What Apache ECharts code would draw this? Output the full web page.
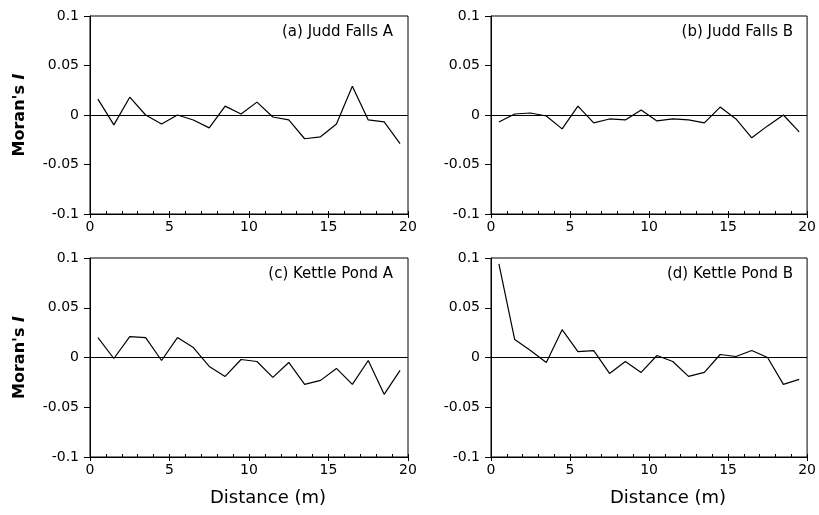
<!DOCTYPE html>
<html>
<head>
<meta charset="utf-8">
<script src="https://cdn.jsdelivr.net/npm/echarts@6/dist/echarts.min.js"></script>
<style>
html,body{margin:0;padding:0;background:#fff;}
#chart{width:819px;height:515px;}
</style>
</head>
<body>
<div id="chart"></div>
<script>
const distances = [0.5,1.5,2.5,3.5,4.5,5.5,6.5,7.5,8.5,9.5,10.5,11.5,12.5,13.5,14.5,15.5,16.5,17.5,18.5,19.5];
const juddFallsA = [0.016,-0.010,0.018,0.000,-0.009,0.000,-0.005,-0.013,0.009,0.001,0.013,-0.002,-0.005,-0.024,-0.022,-0.009,0.029,-0.005,-0.007,-0.029];
const juddFallsB = [-0.007,0.001,0.002,-0.001,-0.014,0.009,-0.008,-0.004,-0.005,0.005,-0.006,-0.004,-0.005,-0.008,0.008,-0.004,-0.023,-0.011,0.000,-0.017];
const kettlePondA = [0.020,-0.001,0.021,0.020,-0.003,0.020,0.010,-0.009,-0.019,-0.002,-0.004,-0.020,-0.005,-0.027,-0.023,-0.011,-0.027,-0.003,-0.037,-0.013];
const kettlePondB = [0.094,0.018,0.007,-0.005,0.028,0.006,0.007,-0.016,-0.004,-0.015,0.002,-0.004,-0.019,-0.015,0.003,0.001,0.007,0.000,-0.027,-0.022];
const panelLabels = ['(a) Judd Falls A','(b) Judd Falls B','(c) Kettle Pond A','(d) Kettle Pond B'];
const xTickInterval = 5;
const yTicks = {min:-0.1, max:0.1, interval:0.05};

const seriesValues = [juddFallsA, juddFallsB, kettlePondA, kettlePondB];
const FONT = '"DejaVu Sans", Verdana, sans-serif';

const grids = [
  {left:90, top:16, width:318, height:198},
  {left:491, top:16, width:317, height:198},
  {left:90, top:258, width:318, height:199},
  {left:491, top:258, width:317, height:199}
];

const option = {
  animation:false,
  backgroundColor:'#fff',
  grid: grids.map(g => Object.assign({show:true, borderColor:'#000', borderWidth:1, backgroundColor:'transparent'}, g)),
  xAxis: [],
  yAxis: [],
  series: [],
  graphic: []
};

grids.forEach((g, i) => {
  option.xAxis.push({
    type:'value', gridIndex:i, min:0, max:20, interval:xTickInterval,
    axisLine:{show:true, onZero:false, lineStyle:{color:'#000', width:1}},
    axisTick:{show:true, inside:false, length:4, lineStyle:{color:'#000'}},
    axisLabel:{show:true, margin:6, color:'#000', fontFamily:FONT, fontSize:14},
    splitLine:{show:false}
  });
  option.xAxis.push({
    type:'value', gridIndex:i, min:0, max:20, interval:1, position:'bottom',
    axisLine:{show:false, onZero:false},
    axisTick:{show:true, inside:true, length:3, lineStyle:{color:'#000'}},
    axisLabel:{show:false},
    splitLine:{show:false}
  });
  const isLeft = (i % 2 === 0);
  option.yAxis.push({
    type:'value', gridIndex:i, min:yTicks.min, max:yTicks.max, interval:yTicks.interval,
    axisLine:{show:true, onZero:false, lineStyle:{color:'#000', width:1}},
    axisTick:{show:true, inside:false, length:6, lineStyle:{color:'#000'}},
    axisLabel:{show:true, margin:11, color:'#000', fontFamily:FONT, fontSize:14,
      formatter: v => String(Math.round(v*100)/100)},
    splitLine:{show:false},
    name: isLeft ? '{n|Moran\'s }{i|I}' : '',
    nameLocation:'middle',
    nameGap: 62,
    nameRotate: 90,
    nameTextStyle:{
      rich:{
        n:{fontFamily:FONT, fontSize:16, fontWeight:'bold', color:'#000'},
        i:{fontFamily:FONT, fontSize:16, fontWeight:'bold', fontStyle:'italic', color:'#000'}
      }
    }
  });
  option.series.push({
    type:'line', xAxisIndex:i*2, yAxisIndex:i,
    data: distances.map((d, k) => [d, seriesValues[i][k]]),
    showSymbol:false, symbol:'none',
    lineStyle:{color:'#000', width:1.2},
    markLine:{
      silent:true, symbol:'none', animation:false,
      label:{show:false},
      lineStyle:{color:'#000', width:1, type:'solid'},
      data:[{yAxis:0}]
    }
  });
  option.graphic.push({
    type:'text',
    x: g.left + g.width - 15,
    y: g.top + 16,
    style:{text:panelLabels[i], fill:'#000', font:'15px ' + FONT, textAlign:'right', textVerticalAlign:'middle'}
  });
});

option.graphic.push({
  type:'text', x:268, y:498,
  style:{text:'Distance (m)', fill:'#000', font:'18px ' + FONT, textAlign:'center', textVerticalAlign:'middle'}
});
option.graphic.push({
  type:'text', x:668, y:498,
  style:{text:'Distance (m)', fill:'#000', font:'18px ' + FONT, textAlign:'center', textVerticalAlign:'middle'}
});

const chart = echarts.init(document.getElementById('chart'), null, {renderer:'canvas'});
chart.setOption(option);
</script>
</body>
</html>
